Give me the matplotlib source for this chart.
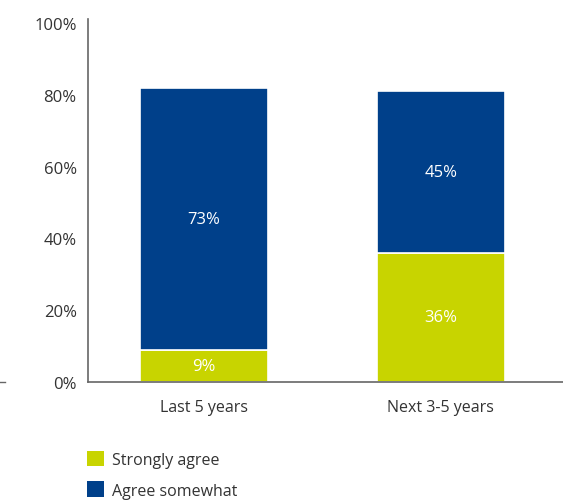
import matplotlib.pyplot as plt
from matplotlib.patches import Patch
from matplotlib.lines import Line2D

periods = ["Last 5 years", "Next 3-5 years"]
strongly_agree = [9, 36]
agree_somewhat = [73, 45]

green = "#c8d400"
blue = "#00408a"
grey = "#333333"

plt.rcParams['font.family'] = ['Open Sans', 'DejaVu Sans']

fig = plt.figure(figsize=(5.63, 5.02), dpi=100)
ax = fig.add_axes([0.156, 0.237, 0.844, 0.723])

x = range(len(periods))
w = 0.54
ax.bar(x, strongly_agree, width=w, color=green, edgecolor="white", linewidth=1.2)
ax.bar(x, agree_somewhat, width=w, bottom=strongly_agree, color=blue,
       edgecolor="white", linewidth=1.2)

for i in x:
    ax.text(i, strongly_agree[i] / 2, f"{strongly_agree[i]}%", ha="center",
            va="center", color="white", fontsize=12)
    ax.text(i, strongly_agree[i] + agree_somewhat[i] / 2, f"{agree_somewhat[i]}%",
            ha="center", va="center", color="white", fontsize=12)

ax.set_xlim(-0.489, 1.515)
ax.set_ylim(0, 101.1)
ax.set_yticks(range(0, 101, 20))
ax.set_yticklabels([f"{v}%" for v in range(0, 101, 20)])
ax.set_xticks(list(x))
ax.set_xticklabels(periods)
ax.tick_params(axis="y", length=0, labelsize=12, labelcolor=grey, pad=8)
ax.tick_params(axis="x", length=0, labelsize=11.5, labelcolor=grey, pad=12)
for s in ["top", "right"]:
    ax.spines[s].set_visible(False)
for s in ["left", "bottom"]:
    ax.spines[s].set_color("#666666")
    ax.spines[s].set_linewidth(1.2)

# short stray dash at the far left of the baseline
fig.add_artist(Line2D([0.0, 0.008], [0.237, 0.237], color="#666666", lw=1))

handles = [Patch(facecolor=green), Patch(facecolor=blue)]
fig.legend(handles, ["Strongly agree", "Agree somewhat"], loc="upper left",
           bbox_to_anchor=(0.154, 0.1), frameon=False, handlelength=1.1,
           handleheight=1.1, handletextpad=0.5, labelspacing=0.85,
           fontsize=11.5, labelcolor=grey, borderaxespad=0, borderpad=0)

fig.savefig("out.png", dpi=100)
